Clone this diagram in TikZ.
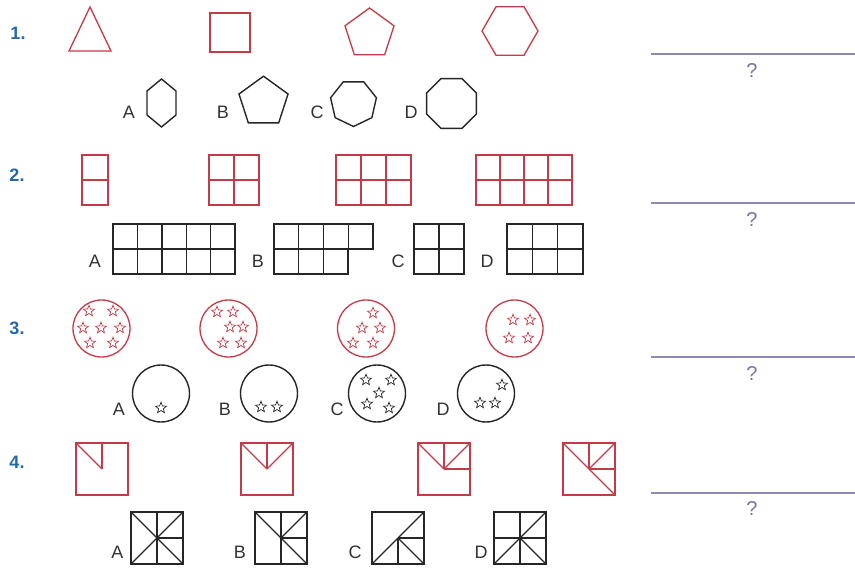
\documentclass[tikz,border=0pt]{standalone}
\usepackage{fontspec}
\setmainfont{Liberation Sans}
\usetikzlibrary{positioning}
\definecolor{figred}{RGB}{196,58,70}
\definecolor{numblue}{RGB}{38,104,170}
\definecolor{ruleline}{RGB}{140,138,178}
\definecolor{qmark}{RGB}{120,118,158}
\definecolor{letgray}{RGB}{50,50,50}
\tikzset{
  redfig/.style={draw=figred, line width=1.3pt},
  blkfig/.style={draw=black!85, line width=1.4pt},
  numlab/.style={text=numblue, font=\fontsize{18}{20}\selectfont\bfseries},
  optlab/.style={text=letgray, font=\fontsize{18}{20}\selectfont},
  ansline/.style={draw=ruleline, line width=1.8pt},
  qlab/.style={text=qmark, font=\fontsize{20}{22}\selectfont},
}
\newcommand{\figpoly}[6]{\draw[#1] (#2,#3) +(#6:#4) \foreach \k in {1,...,#5} { -- +({#6+\k*360/#5}:#4) } -- cycle;}
\newcommand{\figstar}[3]{\draw[#1, line width=0.7pt] (#2,#3) +(270:5.8) -- +(306:2.5) -- +(342:5.8) -- +(18:2.5) -- +(54:5.8) -- +(90:2.5) -- +(126:5.8) -- +(162:2.5) -- +(198:5.8) -- +(234:2.5) -- cycle;}
\newcommand{\figgrid}[5]{%
  \draw[#1] (#2,#3) rectangle ++(#4*#5,50);
  \draw[#1] (#2,#3+25) -- ++(#4*#5,0);
  \foreach \k in {2,...,#4} {\draw[#1] (#2+\k*#5-#5,#3) -- ++(0,50);}}
\newcommand{\figsq}[4]{%
  \begin{scope}[shift={(#2,#3)}]
    \coordinate (TL) at (0,0); \coordinate (T) at (26,0); \coordinate (TR) at (52,0);
    \coordinate (R) at (52,26); \coordinate (BR) at (52,52); \coordinate (B) at (26,52);
    \coordinate (BL) at (0,52); \coordinate (L) at (0,26); \coordinate (C) at (26,26);
    \draw[#1] (TL) rectangle (BR);
    \foreach \p in {#4} {\draw[#1] (C) -- (\p);}
  \end{scope}}
\begin{document}
\begin{tikzpicture}[x=1pt,y=-1pt]
\fill[white] (0,0) rectangle (855,569);
\useasboundingbox (0,0) rectangle (855,569);

\node[numlab] (n1) at (18,33) {1.};
\node[numlab] (n2) at (17,175) {2.};
\node[numlab] (n3) at (17,328) {3.};
\node[numlab] (n4) at (17,462) {4.};

\draw[redfig] (90,7) -- (111,51) -- (69,51) -- cycle;
\draw[redfig] (210,13) rectangle (250,52);
\figpoly{redfig}{369.5}{33.8}{25.8}{5}{270}
\figpoly{redfig}{510}{31}{28}{6}{0}
\node[optlab] (a1) at (129,112) {A};
\node[optlab] (b1) at (223,112) {B};
\node[optlab] (c1) at (317,112) {C};
\node[optlab] (d1) at (411,112) {D};
\draw[blkfig] (161.5,79) -- (176,91) -- (176,115) -- (161.5,127) -- (147,115) -- (147,91) -- cycle;
\figpoly{blkfig}{263.5}{102}{25.8}{5}{270}
\figpoly{blkfig}{353.5}{103}{23.5}{7}{90}
\figpoly{blkfig}{451.5}{103.5}{27}{8}{22.5}

\draw[redfig] (82,155) rectangle (108,205);
\draw[redfig] (82,180) -- (108,180);
\figgrid{redfig}{209}{155}{2}{25}
\figgrid{redfig}{336}{155}{3}{25}
\figgrid{redfig}{476}{155}{4}{24}
\node[optlab] (a2) at (95,261) {A};
\node[optlab] (b2) at (258,261) {B};
\node[optlab] (c2) at (398,261) {C};
\node[optlab] (d2) at (487,261) {D};
\figgrid{blkfig}{113}{224}{5}{24.4}
\draw[blkfig] (274,224) -- (373,224) -- (373,249) -- (348,249) -- (348,274) -- (274,274) -- cycle;
\draw[blkfig] (274,249) -- (348,249);
\foreach \k in {1,2,3} {\draw[blkfig] (274+\k*24.75,224) -- ++(0,50);}
\figgrid{blkfig}{414}{224}{2}{25}
\figgrid{blkfig}{507}{224}{3}{25.3}

\draw[redfig] (101.5,328.5) circle (28.5);
\draw[redfig] (228.5,328.5) circle (28.5);
\draw[redfig] (366,328.5) circle (28.5);
\draw[redfig] (514.5,328.5) circle (28.5);
\foreach \sx/\sy in {89/311,113/311,83/328,101/328,120/328,90/343,113/343,
  217/312,233/312,230/327,243/327,223/343,241/343,
  373/313,362/328,380/328,353/343,373/343,
  513/320,530/320,509/338,528/338}
  {\figstar{figred}{\sx}{\sy}}
\node[optlab] (a3) at (119,409) {A};
\node[optlab] (b3) at (225,409) {B};
\node[optlab] (c3) at (337,409) {C};
\node[optlab] (d3) at (443,409) {D};
\draw[blkfig] (161,393.5) circle (28.5);
\draw[blkfig] (269,393.5) circle (28.5);
\draw[blkfig] (377,393.5) circle (28.5);
\draw[blkfig] (486,393.5) circle (28.5);
\foreach \sx/\sy in {161/408,261/407,277/407,
  366/380,391/380,379/393,367/404,389/408,
  502/385,480/403,495/403}
  {\figstar{black!85}{\sx}{\sy}}

\figsq{redfig}{76}{443}{TL,T}
\figsq{redfig}{241}{443}{TL,T,TR}
\figsq{redfig}{418}{443}{TL,T,TR,R}
\figsq{redfig}{563}{443}{TL,T,TR,R,BR}
\node[optlab] (a4) at (117.5,552) {A};
\node[optlab] (b4) at (240,552) {B};
\node[optlab] (c4) at (355,552) {C};
\node[optlab] (d4) at (481,552) {D};
\figsq{blkfig}{131}{512}{TL,T,TR,R,BR,B,BL}
\figsq{blkfig}{255}{512}{TL,T,TR,R,BR,B}
\figsq{blkfig}{372}{512}{TR,R,BR,B,BL}
\figsq{blkfig}{494}{512}{T,TR,R,BR,B,BL,L}

\coordinate (l1a) at (651,54);  \coordinate (l1b) at (855,54);
\coordinate (l2a) at (651,203); \coordinate (l2b) at (855,203);
\coordinate (l3a) at (651,357); \coordinate (l3b) at (855,357);
\coordinate (l4a) at (651,493); \coordinate (l4b) at (855,493);
\draw[ansline] (l1a) -- (l1b);
\draw[ansline] (l2a) -- (l2b);
\draw[ansline] (l3a) -- (l3b);
\draw[ansline] (l4a) -- (l4b);
\node[qlab] (q1) at (752,71) {?};
\node[qlab] (q2) at (752,220) {?};
\node[qlab] (q3) at (752,374) {?};
\node[qlab] (q4) at (752,509) {?};
\end{tikzpicture}
\end{document}
